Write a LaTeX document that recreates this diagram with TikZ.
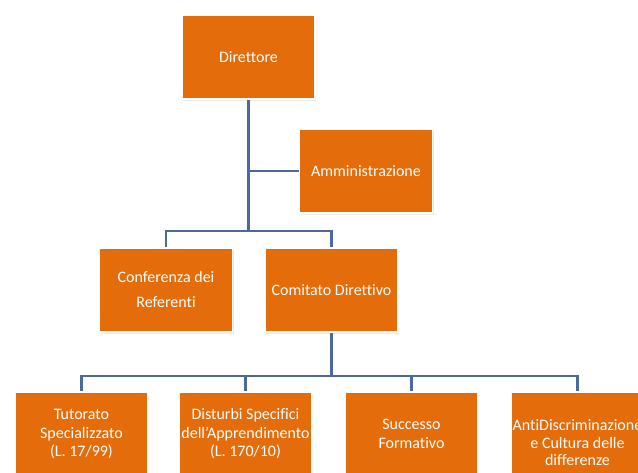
\documentclass[tikz,border=0pt]{standalone}
\usepackage{fontspec}
\setmainfont{Carlito}[Ligatures={NoCommon}]
\usetikzlibrary{shadows,backgrounds}
\definecolor{boxorange}{RGB}{228,108,10}
\definecolor{linkblue}{RGB}{74,106,155}
\tikzset{
  orgbox/.style={rectangle, fill=boxorange, draw=white, line width=1.5pt,
    minimum width=133pt, minimum height=84pt, inner sep=0pt, align=center,
    text=white, font=\fontsize{16}{18.5}\selectfont,
    drop shadow={shadow xshift=1.2pt, shadow yshift=-1.8pt, opacity=0.18, fill=black!50}},
  boxtext/.style={text=white, align=center, font=\fontsize{16}{17.5}\selectfont},
  link/.style={draw=linkblue, line width=2.2pt},
}
\begin{document}
\begin{tikzpicture}[x=1pt,y=-1pt]
\useasboundingbox (0,0) rectangle (638,473);
\clip (0,0) rectangle (638,473);
\node[orgbox] (dir) at (248.5,57) {Direttore};
\node[orgbox] (amm) at (366,171) {Amministrazione};
\node[orgbox, font=\fontsize{16}{25}\selectfont] (conf) at (166,290) {Conferenza dei\\Referenti};
\node[orgbox] (com) at (331.5,290) {Comitato Direttivo};
\node[orgbox] (tut) at (81.5,434) {Tutorato\\Specializzato\\(L. 17/99)};
\node[orgbox] (dis) at (245.5,434) {Disturbi Specifici\\dell'Apprendimento\\(L. 170/10)};
\node[orgbox] (suc) at (411.5,434) {Successo\\Formativo};
\node[orgbox, label={[boxtext, yshift=-9pt]center:{AntiDiscriminazione\\e Cultura delle\\differenze}}] (anti) at (577.5,434) {};
\coordinate (bar1) at (249,231);
\coordinate (bar2) at (331.5,376);
\begin{scope}[on background layer]
  \draw[link] (dir.south) -- (dir.south |- bar1);
  \draw[link] (dir.south |- amm.west) -- (amm.west);
  \draw[link] (conf.north) -- (conf.north |- bar1) -| (com.north);
  \draw[link] (com.south) -- (com.south |- bar2);
  \draw[link] (tut.north) -- (tut.north |- bar2) -| (anti.north);
  \draw[link] (dis.north) -- (dis.north |- bar2);
  \draw[link] (suc.north) -- (suc.north |- bar2);
\end{scope}
\end{tikzpicture}
\end{document}
